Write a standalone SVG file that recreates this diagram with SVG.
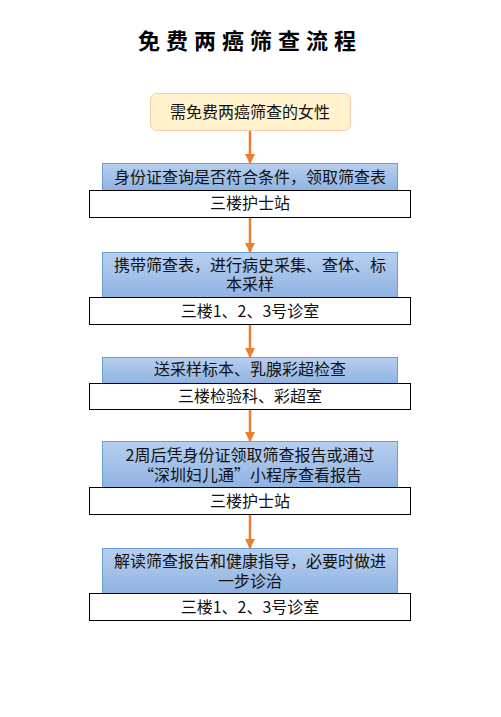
<svg xmlns="http://www.w3.org/2000/svg" width="501" height="717" viewBox="0 0 501 717">
<defs>
<linearGradient id="blueGrad" x1="0" y1="0" x2="0" y2="1">
<stop offset="0" stop-color="#B8CFEE"/>
<stop offset="1" stop-color="#8FB3E2"/>
</linearGradient>
<marker id="arrow" markerWidth="10" markerHeight="10" refX="9" refY="5" orient="auto" markerUnits="userSpaceOnUse">
<path d="M0,0 L10,5 L0,10 Z" fill="#ED7D31"/>
</marker>
<style>
.t{font-family:"Noto Sans CJK SC","Microsoft YaHei",sans-serif;font-size:16px;fill:#111;text-anchor:middle}
.title{font-family:"Noto Sans CJK SC",sans-serif;font-size:22px;font-weight:bold;fill:#000;text-anchor:middle;letter-spacing:6px}
.blue{fill:url(#blueGrad);stroke:#6B9BD8;stroke-width:1}
.white{fill:#fff;stroke:#000;stroke-width:1}
.conn{stroke:#ED7D31;stroke-width:2.5;fill:none;marker-end:url(#arrow)}
</style>
</defs>
<rect width="501" height="717" fill="#fff"/>
<text class="title" x="250" y="49">免费两癌筛查流程</text>
<g id="start">
<rect x="150.5" y="93.5" width="200" height="37" rx="6" fill="#FFF2CC" stroke="#F8CBAD"/>
<text class="t" x="250" y="118">需免费两癌筛查的女性</text>
</g>
<g id="step1">
<rect class="blue" x="102.5" y="163.5" width="295" height="27"/>
<text class="t" x="250" y="183">身份证查询是否符合条件，领取筛查表</text>
<rect class="white" x="89.5" y="190.5" width="321" height="27"/>
<text class="t" x="250" y="209">三楼护士站</text>
</g>
<g id="step2">
<rect class="blue" x="102.5" y="252.5" width="295" height="45"/>
<text class="t" x="250" y="271">携带筛查表，进行病史采集、查体、标</text>
<text class="t" x="250" y="290">本采样</text>
<rect class="white" x="89.5" y="297.5" width="321" height="27"/>
<text class="t" x="250" y="317">三楼1、2、3号诊室</text>
</g>
<g id="step3">
<rect class="blue" x="102.5" y="357.5" width="295" height="26"/>
<text class="t" x="250" y="375">送采样标本、乳腺彩超检查</text>
<rect class="white" x="89.5" y="383.5" width="321" height="26"/>
<text class="t" x="250" y="402">三楼检验科、彩超室</text>
</g>
<g id="step4">
<rect class="blue" x="102.5" y="441.5" width="295" height="46"/>
<text class="t" x="250" y="461">2周后凭身份证领取筛查报告或通过</text>
<text class="t" x="250" y="481">“深圳妇儿通”小程序查看报告</text>
<rect class="white" x="89.5" y="487.5" width="321" height="27"/>
<text class="t" x="250" y="507">三楼护士站</text>
</g>
<g id="step5">
<rect class="blue" x="102.5" y="548.5" width="295" height="45"/>
<text class="t" x="250" y="567">解读筛查报告和健康指导，必要时做进</text>
<text class="t" x="250" y="587">一步诊治</text>
<rect class="white" x="89.5" y="593.5" width="321" height="27"/>
<text class="t" x="250" y="613">三楼1、2、3号诊室</text>
</g>
<g id="connectors">
<line class="conn" x1="250" y1="131" x2="250" y2="163"/>
<line class="conn" x1="250" y1="218" x2="250" y2="252"/>
<line class="conn" x1="250" y1="325" x2="250" y2="357"/>
<line class="conn" x1="250" y1="410" x2="250" y2="441"/>
<line class="conn" x1="250" y1="515" x2="250" y2="548"/>
</g>
</svg>
